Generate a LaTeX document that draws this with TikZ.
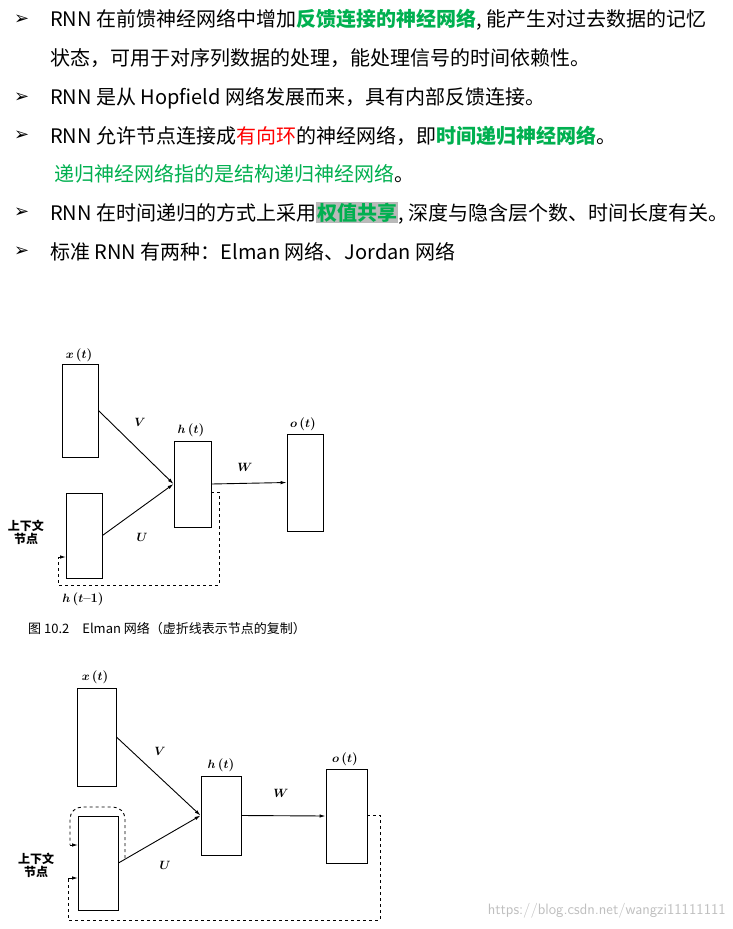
\documentclass[tikz,border=0pt]{standalone}
\usepackage{bm}
\usepackage{fontspec}
\newfontfamily\cjk{Noto Sans CJK SC}
\newfontfamily\sym{DejaVu Sans}
\usetikzlibrary{arrows.meta}
\definecolor{grn}{RGB}{0,176,80}
\newcommand{\bv}[1]{$\bm{#1}$}
\begin{document}
\begin{tikzpicture}[x=1pt,y=-1pt,
  txt/.style={anchor=west,inner sep=0,font=\cjk\fontsize{20}{20}\selectfont},
  bul/.style={anchor=west,inner sep=0,font=\sym\bfseries\fontsize{18}{18}\selectfont},
  box/.style={draw,line width=0.9pt,inner sep=0},
  lab/.style={font=\fontsize{13}{13}\selectfont\bfseries,inner sep=0},
  clab/.style={font=\cjk\fontsize{12}{12}\selectfont\bfseries,inner sep=0},
  arr/.style={-{Latex[length=6pt,width=3.5pt]},line width=0.9pt},
  dsh/.style={dashed,line width=0.9pt}]
\useasboundingbox (0,0) rectangle (732,929);
\fill[white] (0,0) rectangle (732,929);
% text
\node[bul] (b1) at (14,20) {➢};
\node[txt] (t1) at (50,20) {RNN 在前馈神经网络中增加\textcolor{grn}{\bfseries 反馈连接的神经网络}, 能产生对过去数据的记忆};
\node[txt] (t1b) at (50,58) {状态，可用于对序列数据的处理，能处理信号的时间依赖性。};
\node[bul] (b2) at (14,98) {➢};
\node[txt] (t2) at (50,98) {RNN 是从 Hopfield 网络发展而来，具有内部反馈连接。};
\node[bul] (b3) at (14,136) {➢};
\node[txt] (t3) at (50,136) {RNN 允许节点连接成\textcolor{red}{有向环}的神经网络，即\textcolor{grn}{\bfseries 时间递归神经网络}。};
\node[txt] (t3b) at (54,174) {\textcolor{grn}{递归神经网络指的是结构递归神经网络}。};
\node[bul] (b4) at (14,213) {➢};
\node[txt] (t4) at (50,213) {RNN 在时间递归的方式上采用{\setlength{\fboxsep}{1pt}\colorbox{gray!55}{\textcolor{grn}{\bfseries 权值共享}}}, 深度与隐含层个数、时间长度有关。};
\node[bul] (b5) at (14,252) {➢};
\node[txt] (t5) at (50,252) {标准 RNN 有两种：Elman 网络、Jordan 网络};
% diagram 1
\node[box,minimum width=36,minimum height=93] (x1) at (80,410.5) {};
\node[box,minimum width=36,minimum height=85] (c1) at (84,535.5) {};
\node[box,minimum width=37,minimum height=86] (h1) at (192.5,484) {};
\node[box,minimum width=36,minimum height=97] (o1) at (305,482.5) {};
\node[lab] (lx1) at (79,355) {\bv{x}\,(\bv{t})};
\node[lab] (lh1) at (191,430) {\bv{h}\,(\bv{t})};
\node[lab] (lo1) at (303,424) {\bv{o}\,(\bv{t})};
\draw[arr] (x1.east) -- (h1.west);
\draw[arr] (c1.east) -- (h1.west);
\draw[arr] (h1.east) -- (o1.west);
\node[lab] (V1) at (140,422) {\bv{V}};
\node[lab] (U1) at (142,537) {\bv{U}};
\node[lab] (W1) at (245,467) {\bv{W}};
\coordinate (d1a) at (219,492);
\coordinate (d1b) at (58,585);
\coordinate (d1c) at (66,557);
\draw[dsh] (h1.east |- d1a) -- (d1a) -- (d1a |- d1b) -- (d1b) -- (d1b |- d1c);
\draw[arr] (d1b |- d1c) -- (d1c);
\node[clab,align=center] (ctx1) at (26,532) {上下文\\[1pt]节点};
\node[lab] (hm1) at (83,599) {\bv{h}\,(\bv{t}\textbf{--}1)};
\node[clab,anchor=west,font=\cjk\fontsize{13}{13}\selectfont] (cap) at (28,629) {图 10.2\quad Elman 网络（虚折线表示节点的复制）};
% diagram 2
\node[box,minimum width=39,minimum height=98] (x2) at (96.5,737) {};
\node[box,minimum width=40,minimum height=94] (c2) at (98,863) {};
\node[box,minimum width=40,minimum height=79] (h2) at (221,815.5) {};
\node[box,minimum width=41,minimum height=94] (o2) at (346.5,816) {};
\node[lab] (lx2) at (95,677) {\bv{x}\,(\bv{t})};
\node[lab] (lh2) at (221,765) {\bv{h}\,(\bv{t})};
\node[lab] (lo2) at (345,759) {\bv{o}\,(\bv{t})};
\draw[arr] (x2.east) -- (h2.west);
\draw[arr] (c2.east) -- (h2.west);
\draw[arr] (h2.east) -- (o2.west);
\node[lab] (V2) at (160,751) {\bv{V}};
\node[lab] (U2) at (165,865) {\bv{U}};
\node[lab] (W2) at (281,793) {\bv{W}};
\coordinate (e1) at (125,858);
\coordinate (e2) at (78,845);
\draw[dsh,rounded corners=12] (e1) -- (125,807) -- (70,807) -- (70,845);
\draw[arr] (70,845) -- (e2);
\coordinate (f1) at (380,815);
\coordinate (f2) at (68,920);
\coordinate (f3) at (78,878);
\draw[dsh] (o2.east |- f1) -- (f1) -- (f1 |- f2) -- (f2) -- (f2 |- f3);
\draw[arr] (f2 |- f3) -- (f3);
\node[clab,align=center] (ctx2) at (36,865) {上下文\\[1pt]节点};
\node[anchor=east,inner sep=0,text=gray!50,font=\sffamily\fontsize{15}{15}\selectfont] (wm) at (726,911) {https://blog.csdn.net/wangzi11111111};
\end{tikzpicture}
\end{document}
